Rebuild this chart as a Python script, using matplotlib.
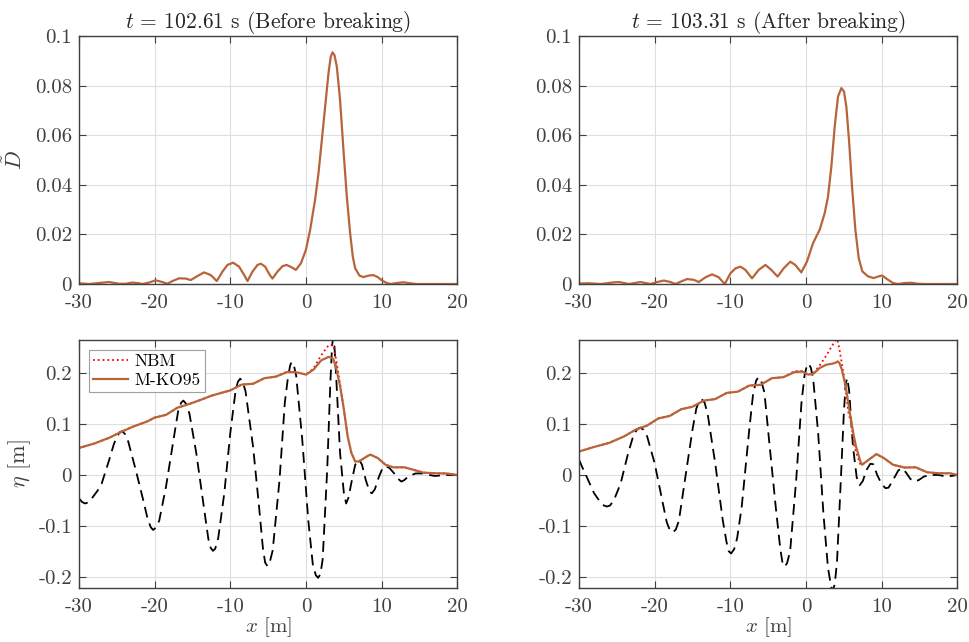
import numpy as np
import matplotlib
matplotlib.use('Agg')
import matplotlib.pyplot as plt

# ---- digitised data ----
# top row: dissipation D~ vs x
xD_before = [-30, -28.68, -27.35, -26.03, -24.7, -23.83, -22.95, -22.06, -21.62, -20.74,
             -19.86, -18.98, -18.32, -17.65, -16.77, -15.89, -15.23, -14.35, -13.47, -12.58,
             -11.79, -11.04, -10.38, -9.63, -8.84, -8.17, -7.73, -7.07, -6.41, -5.97, -5.4,
             -4.78, -4.43, -3.77, -3.1, -2.57, -1.87, -1.34, -0.68, -0.02, 0.55, 1.2, 1.65,
             2.09, 2.53, 2.97, 3.27, 3.5, 3.76, 4.07, 4.5, 4.95, 5.39, 5.83, 6.18, 6.49, 7.06,
             7.59, 8.25, 8.9, 9.48, 10.0, 10.67, 11.2, 12.0, 12.87, 13.75, 14.6, 16, 18, 20]
D_before = [0.0003, 0.0, 0.0004, 0.0008, 0.0001, 0.0001, 0.0006, 0.0003, 0.0, 0.0006,
            0.0015, 0.0008, 0.0001, 0.0012, 0.0023, 0.0022, 0.0016, 0.0032, 0.0047, 0.0036,
            0.0012, 0.005, 0.0077, 0.0086, 0.007, 0.0036, 0.0012, 0.005, 0.0077, 0.0082,
            0.007, 0.0036, 0.0022, 0.005, 0.0072, 0.0077, 0.0067, 0.0057, 0.0083, 0.0137,
            0.0219, 0.034, 0.0447, 0.058, 0.0715, 0.085, 0.0917, 0.0934, 0.0923, 0.0877,
            0.0742, 0.054, 0.0353, 0.0205, 0.0111, 0.0064, 0.0034, 0.0028, 0.0034, 0.0036,
            0.0028, 0.0015, 0.0004, 0.0, 0.0004, 0.0007, 0.0003, 0.0, 0.0, 0.0, 0.0]

xD_after = [-30, -28.68, -27.14, -25.6, -24.72, -23.4, -21.86, -20.55, -19.67, -18.79,
            -17.91, -17.25, -16.59, -15.71, -14.83, -14.17, -13.29, -12.41, -11.53, -10.74,
            -9.99, -9.33, -8.67, -8.01, -7.13, -6.25, -5.37, -4.58, -3.75, -2.96, -2.08,
            -1.42, -0.62, 0.12, 0.93, 1.81, 2.47, 2.91, 3.35, 3.79, 4.23, 4.67, 5.02, 5.33,
            5.68, 6.08, 6.52, 6.96, 7.44, 8.19, 8.94, 9.6, 10.09, 10.7, 11.5, 12.16, 13.04,
            13.92, 14.8, 15.9, 18, 20]
D_after = [0.0002, 0.0003, 0.0, 0.0006, 0.0008, 0.0, 0.0008, 0.0, 0.0008, 0.0014, 0.0008,
           0.0, 0.0009, 0.002, 0.0017, 0.0008, 0.0027, 0.0039, 0.0027, 0.0, 0.0043, 0.0063,
           0.007, 0.0057, 0.0023, 0.0057, 0.0077, 0.0057, 0.003, 0.0063, 0.009, 0.0077,
           0.0047, 0.009, 0.0165, 0.0219, 0.0286, 0.0353, 0.0474, 0.0635, 0.0756, 0.079,
           0.0776, 0.0715, 0.0581, 0.0393, 0.0219, 0.0105, 0.0051, 0.0031, 0.0024, 0.0031,
           0.0034, 0.002, 0.0004, 0.0, 0.0004, 0.0005, 0.0001, 0.0, 0.0, 0.0]

# bottom row: surface elevation eta vs x
xE_before = [-30, -28, -26, -24.5, -23, -21, -20, -18.5, -17, -15.5, -14, -12.5, -11, -10,
             -8.5, -7, -5.5, -4, -2.5, -1.5, -0.5, 0, 1, 2, 3, 3.6, 4, 4.5, 5, 5.5, 6, 6.5,
             7, 8, 8.5, 9.5, 10.5, 11.5, 13, 14, 15.5, 17, 18.5, 20]
mko_before = [0.053, 0.0616, 0.073, 0.084, 0.094, 0.105, 0.1126, 0.118, 0.132, 0.139, 0.147,
              0.1556, 0.162, 0.166, 0.1775, 0.179, 0.19, 0.193, 0.202, 0.202, 0.199, 0.197,
              0.207, 0.225, 0.232, 0.228, 0.209, 0.175, 0.129, 0.076, 0.043, 0.0265, 0.0265,
              0.036, 0.04, 0.033, 0.02, 0.015, 0.015, 0.011, 0.0046, 0.0033, 0.003, 0.0]
nbm_before = [0.053, 0.0616, 0.073, 0.084, 0.094, 0.105, 0.1126, 0.118, 0.132, 0.139, 0.147,
              0.1556, 0.162, 0.166, 0.1775, 0.179, 0.19, 0.193, 0.203, 0.203, 0.199, 0.197,
              0.209, 0.235, 0.255, 0.255, 0.225, 0.178, 0.129, 0.076, 0.043, 0.0265, 0.0265,
              0.036, 0.04, 0.033, 0.02, 0.015, 0.015, 0.011, 0.0046, 0.0033, 0.003, 0.0]

xL_before = [-30, -29.6, -29.2, -28.8, -28.4, -27.5, -27, -26, -25.4, -25, -24.6, -24.3, -23.9,
             -23.5, -22.5, -21.5, -20.9, -20.5, -20.2, -19.8, -19.4, -18.5, -17.5, -16.9,
             -16.5, -16.2, -15.8, -15.4, -14.5, -13.5, -12.9, -12.6, -12.3, -12.0, -11.6,
             -10.8, -10, -9.3, -9.0, -8.7, -8.4, -8.0, -7, -6.2, -5.7, -5.4, -5.1, -4.8, -4.4,
             -3.5, -2.8, -2.4, -2.1, -1.9, -1.6, -1.3, -0.5, 0.3, 0.9, 1.3, 1.6, 1.9, 2.2,
             2.8, 3.2, 3.45, 3.6, 3.75, 4.0, 4.5, 5.0, 5.3, 5.6, 6.0, 6.5, 7.0, 7.4, 7.9, 8.4,
             8.7, 9.1, 9.6, 10.1, 10.5, 11.0, 11.6, 12.2, 12.6, 13.0, 13.6, 14.5, 15.5, 16.3,
             17, 18.5, 20]
lin_before = [-0.046, -0.053, -0.056, -0.054, -0.048, -0.03, -0.017, 0.03, 0.06, 0.075,
              0.084, 0.086, 0.08, 0.066, 0.01, -0.05, -0.088, -0.103, -0.108, -0.103, -0.09,
              -0.023, 0.07, 0.125, 0.142, 0.146, 0.139, 0.12, 0.043, -0.063, -0.126, -0.143,
              -0.149, -0.145, -0.124, -0.036, 0.083, 0.166, 0.183, 0.189, 0.184, 0.165, 0.056,
              -0.063, -0.143, -0.172, -0.179, -0.172, -0.148, -0.01, 0.142, 0.19, 0.215,
              0.222, 0.215, 0.195, 0.07, -0.089, -0.176, -0.197, -0.202, -0.195, -0.166,
              0.01, 0.175, 0.255, 0.27, 0.255, 0.189, 0.043, -0.035, -0.056, -0.045, -0.015,
              0.02, 0.031, 0.02, -0.01, -0.033, -0.036, -0.028, -0.005, 0.013, 0.017, 0.014,
              0.004, -0.008, -0.013, -0.01, -0.002, 0.003, 0.003, 0.0, -0.002, 0.0, 0.0]

xE_after = [-30, -28, -26, -24, -22.5, -21, -19.5, -18, -16.5, -15, -13.5, -12, -10.5, -9,
            -7.5, -6, -4.5, -3, -1.5, -0.5, 0.3, 1, 1.8, 2.7, 3.5, 4.0, 4.2, 4.4, 4.7, 5.0,
            5.3, 5.6, 6, 6.3, 6.6, 7.2, 7.4, 8.3, 9.3, 10.3, 11.5, 13, 14.5, 16, 17.5, 19, 20]
mko_after = [0.046, 0.055, 0.063, 0.076, 0.089, 0.097, 0.111, 0.116, 0.129, 0.134, 0.146,
             0.149, 0.161, 0.1636, 0.1755, 0.177, 0.19, 0.192, 0.202, 0.203, 0.197, 0.199,
             0.21, 0.2166, 0.2185, 0.221, 0.223, 0.22, 0.2086, 0.19, 0.169, 0.14, 0.1026,
             0.078, 0.056, 0.026, 0.02, 0.03, 0.041, 0.033, 0.02, 0.0146, 0.015, 0.0053,
             0.0033, 0.0033, 0.0]
nbm_after = [0.046, 0.055, 0.063, 0.076, 0.089, 0.097, 0.111, 0.116, 0.129, 0.134, 0.146,
             0.149, 0.161, 0.1636, 0.1755, 0.177, 0.19, 0.192, 0.204, 0.204, 0.197, 0.2,
             0.215, 0.235, 0.255, 0.267, 0.262, 0.248, 0.222, 0.195, 0.16, 0.1225, 0.1,
             0.063, 0.045, 0.02, 0.02, 0.03, 0.041, 0.033, 0.02, 0.0146, 0.015, 0.0053,
             0.0033, 0.0033, 0.0]

xL_after = [-30, -29.5, -29, -28, -27.2, -26.7, -26.3, -25.9, -25.4, -24.5, -23.5, -22.8,
            -22.3, -21.9, -21.5, -21, -20, -19, -18.4, -18.0, -17.6, -17.2, -16.8, -16, -15,
            -14.5, -14.1, -13.8, -13.4, -13, -12, -11, -10.5, -10.2, -9.9, -9.5, -9.1, -8.5,
            -7.5, -7.0, -6.6, -6.3, -5.9, -5.5, -4.8, -4, -3.4, -3.1, -2.8, -2.5, -2.1, -1.3,
            -0.6, -0.2, 0.1, 0.35, 0.65, 0.95, 1.6, 2.3, 2.9, 3.3, 3.5, 3.8, 4.1, 4.6, 5.0,
            5.25, 5.45, 5.7, 6.2, 6.7, 7.1, 7.5, 8.0, 8.5, 8.9, 9.4, 10.0, 10.5, 10.9, 11.5,
            12.2, 12.7, 13.2, 13.8, 14.3, 14.9, 15.6, 16.5, 17.5, 18.5, 19.2, 20]
lin_after = [0.03, 0.013, -0.003, -0.036, -0.053, -0.06, -0.062, -0.06, -0.05, -0.017, 0.043,
             0.078, 0.09, 0.093, 0.089, 0.076, 0.023, -0.05, -0.093, -0.108, -0.113, -0.107,
             -0.09, -0.01, 0.089, 0.13, 0.146, 0.149, 0.142, 0.12, 0.023, -0.089, -0.132,
             -0.15, -0.154, -0.146, -0.124, -0.063, 0.089, 0.158, 0.185, 0.192, 0.184, 0.162,
             0.056, -0.063, -0.145, -0.173, -0.18, -0.173, -0.15, -0.01, 0.142, 0.195, 0.214,
             0.2185, 0.21, 0.188, 0.083, -0.076, -0.182, -0.218, -0.228, -0.215, -0.169,
             -0.01, 0.1225, 0.18, 0.19, 0.165, 0.056, -0.005, -0.02, -0.012, 0.01, 0.022,
             0.021, 0.0, -0.018, -0.026, -0.025, -0.01, 0.009, 0.013, 0.005, -0.008, -0.013,
             -0.01, -0.003, 0.0, 0.0, -0.003, -0.002, 0.0]

titles = ['$t$ = 102.61 s (Before breaking)', '$t$ = 103.31 s (After breaking)']
xticks = [-30, -20, -10, 0, 10, 20]
yticks_top = [0, 0.02, 0.04, 0.06, 0.08, 0.1]
yticks_bot = [-0.2, -0.1, 0, 0.1, 0.2]

# ---- style ----
plt.rcParams['font.family'] = 'cmr10'
plt.rcParams['mathtext.fontset'] = 'cm'
plt.rcParams['font.size'] = 15
brown = '#b8643a'
grey = '#404040'


def style_axes(ax, yticks, ylim):
    ax.set_xlim(-30, 20)
    ax.set_ylim(*ylim)
    ax.set_xticks(xticks)
    ax.set_xticklabels([str(v) for v in xticks])
    ax.set_yticks(yticks)
    ax.set_yticklabels(['%g' % v for v in yticks])
    ax.grid(True, color='#dedede', linewidth=0.8)
    ax.set_axisbelow(True)
    ax.tick_params(direction='in', length=5, width=0.8, top=True, right=True,
                   colors=grey, labelcolor=grey, labelsize=15, pad=5)
    ax.tick_params(axis='x', pad=7)
    for s in ax.spines.values():
        s.set_color(grey)
        s.set_linewidth(1.0)


fig = plt.figure(figsize=(9.69, 6.42), dpi=100)
lefts = [0.0815, 0.5975]
w, h = 0.3905, 0.3863

for i in range(2):
    ax = fig.add_axes([lefts[i], 0.5576, w, h])
    xd, dd = (xD_before, D_before) if i == 0 else (xD_after, D_after)
    ax.plot(xd, dd, color=brown, lw=1.6)
    style_axes(ax, yticks_top, (0, 0.1))
    ax.set_title(titles[i], fontsize=15.5, color='#262626', pad=6)
    if i == 0:
        ax.set_ylabel(r'$\tilde{D}$', color=grey, fontsize=16, labelpad=6)

    ax = fig.add_axes([lefts[i], 0.0841, w, h])
    if i == 0:
        xe, nbm, mko, xl, lin = xE_before, nbm_before, mko_before, xL_before, lin_before
    else:
        xe, nbm, mko, xl, lin = xE_after, nbm_after, mko_after, xL_after, lin_after
    ax.plot(xl, lin, color='black', lw=1.3, dashes=[6, 3.5])
    l1, = ax.plot(xe, nbm, color='red', lw=1.3, linestyle=':', label='NBM')
    l2, = ax.plot(xe, mko, color=brown, lw=1.6, label='M-KO95')
    style_axes(ax, yticks_bot, (-0.222, 0.265))
    ax.set_xlabel('$x$ [m]', color=grey, fontsize=15, labelpad=0)
    if i == 0:
        ax.set_ylabel(r'$\eta$ [m]', color=grey, fontsize=16, labelpad=4)
        leg = ax.legend(handles=[l1, l2], loc='upper left', fontsize=12.5,
                        fancybox=False, framealpha=1, edgecolor='#a0a0a0',
                        handlelength=2.0, handletextpad=0.4, borderpad=0.25,
                        labelspacing=0.2, borderaxespad=0.55)
        leg.get_frame().set_linewidth(0.8)

fig.savefig('out.png', dpi=100)
